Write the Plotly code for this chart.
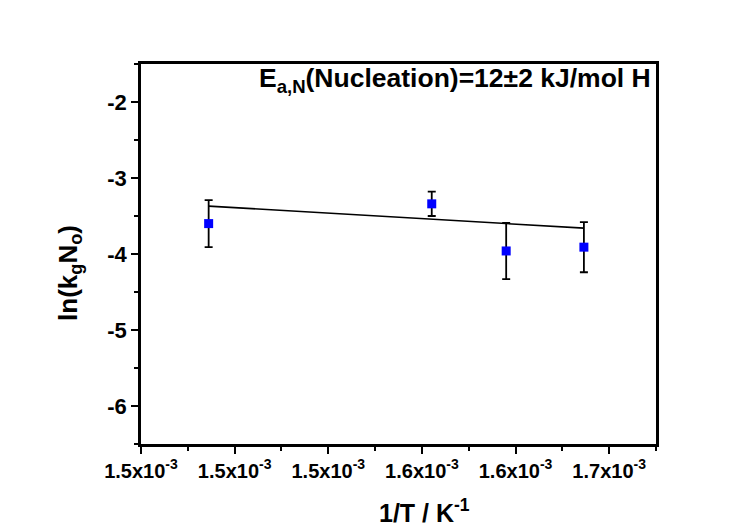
import plotly.graph_objects as go

# Data
inv_T = [1.4889e-3, 1.5842e-3, 1.616e-3, 1.6492e-3]
ln_kgNo = [-3.60, -3.34, -3.96, -3.91]
err = [0.31, 0.16, 0.37, 0.33]
fit_x = [1.4889e-3, 1.6492e-3]
fit_y = [-3.37, -3.66]

x_tickvals = [1.46e-3, 1.50e-3, 1.54e-3, 1.58e-3, 1.62e-3, 1.66e-3]
x_ticktext = ["1.5x10<sup>-3</sup>", "1.5x10<sup>-3</sup>", "1.5x10<sup>-3</sup>",
              "1.6x10<sup>-3</sup>", "1.6x10<sup>-3</sup>", "1.7x10<sup>-3</sup>"]
y_tickvals = [-6, -5, -4, -3, -2]
y_ticktext = ["-6", "-5", "-4", "-3", "-2"]

FONT = "Liberation Sans, Arial, sans-serif"

fig = go.Figure()
fig.add_trace(go.Scatter(
    x=fit_x, y=fit_y, mode="lines",
    line=dict(color="black", width=1.6), showlegend=False, hoverinfo="skip"))
fig.add_trace(go.Scatter(
    x=inv_T, y=ln_kgNo, mode="markers",
    marker=dict(symbol="square", size=9, color="#0000ff"),
    error_y=dict(type="data", array=err, visible=True, color="black",
                 thickness=1.8, width=4),
    showlegend=False))

fig.add_annotation(
    x=1.0, y=1.0, xref="paper", yref="paper", xanchor="right", yanchor="top",
    xshift=-3, yshift=3,
    text="<b>E<sub>a,N</sub>(Nucleation)=12±2 kJ/mol H</b>",
    showarrow=False, font=dict(family=FONT, size=26.5, color="black", weight="bold"))

# axis titles
fig.add_annotation(
    x=0.55, y=-0.176, xref="paper", yref="paper", xanchor="center", yanchor="middle",
    text="<b>1/T / K<sup>-1</sup></b>", showarrow=False,
    font=dict(family=FONT, size=25, color="black", weight="bold"))
fig.add_annotation(
    x=-0.14, y=0.45, xref="paper", yref="paper", xanchor="center", yanchor="middle",
    text="<b>ln(k<sub>g</sub>N<sub>o</sub>)</b>", showarrow=False, textangle=-90,
    font=dict(family=FONT, size=26, color="black", weight="bold"))

axis_common = dict(
    showline=True, linecolor="black", linewidth=2.5, mirror=True,
    ticks="outside", ticklen=7, tickwidth=2, tickcolor="black",
    showgrid=False, zeroline=False,
)

fig.update_xaxes(
    range=[1.46e-3, 1.68e-3], tickmode="array",
    tickvals=x_tickvals, ticktext=["<b>" + t + "</b>" for t in x_ticktext],
    tickfont=dict(family=FONT, size=20, color="black", weight="bold"),
    minor=dict(ticks="outside", ticklen=4, tickwidth=2, tickcolor="black",
               dtick=0.02e-3, tick0=1.46e-3),
    **axis_common)

fig.update_yaxes(
    range=[-6.5, -1.5], tickmode="array",
    tickvals=y_tickvals, ticktext=["<b>" + t + "</b>" for t in y_ticktext],
    tickfont=dict(family=FONT, size=22, color="black", weight="bold"),
    minor=dict(ticks="outside", ticklen=4, tickwidth=2, tickcolor="black",
               dtick=0.5, tick0=-6.5),
    **axis_common)

fig.update_layout(
    width=746, height=528,
    margin=dict(l=133, r=98, t=56, b=92),
    paper_bgcolor="white", plot_bgcolor="white",
    font=dict(family=FONT, color="black"),
)

fig.write_html("out.html")
